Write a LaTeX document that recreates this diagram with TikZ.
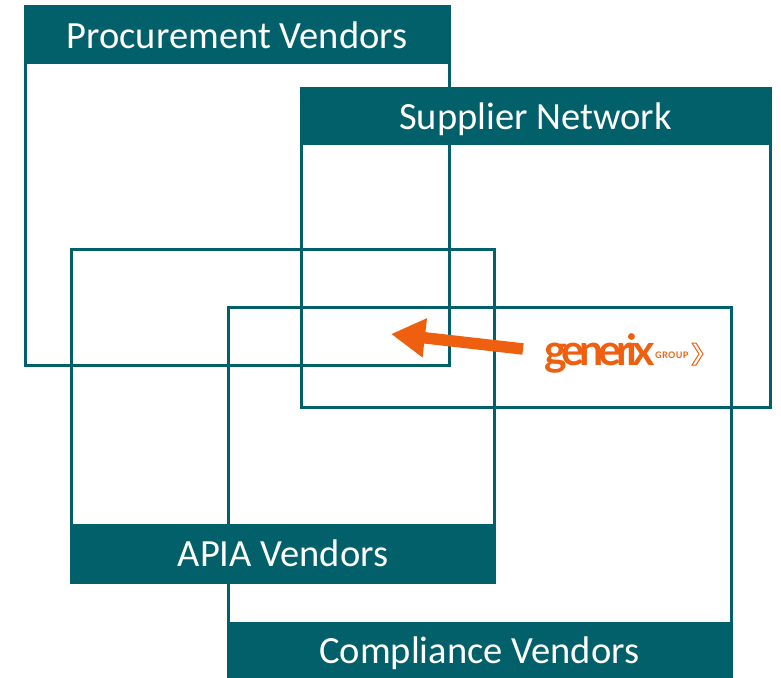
\documentclass[tikz,border=0pt]{standalone}
\usepackage{fontspec}
\setmainfont{Carlito}
\newfontfamily\logofont{Lato}
\usetikzlibrary{arrows.meta}
\definecolor{vendorteal}{HTML}{02606B}
\definecolor{logoorange}{HTML}{EE600F}
\tikzset{
  vendorbox/.style={draw=vendorteal,line width=2.6pt,inner sep=0pt,outer sep=0pt,anchor=north west},
  vendorhead/.style={fill=vendorteal,text=white,inner sep=0pt,outer sep=0pt,anchor=north west,text height=27pt,text depth=0pt,font=\fontsize{38.5}{38.5}\selectfont},
}
\begin{document}
\begin{tikzpicture}[x=1pt,y=-1pt,>=latex]
        \useasboundingbox (0,0) rectangle (781,677);
        % the four outlines
        \node[vendorbox,minimum width=424pt,minimum height=359pt] (procbox) at (25.5,6.5) {};
        \node[vendorbox,minimum width=469pt,minimum height=319pt] (suppbox) at (301.5,88.5) {};
        \node[vendorbox,minimum width=423pt,minimum height=333pt] (apiabox) at (71.5,249.5) {};
        \node[vendorbox,minimum width=503pt,minimum height=372pt] (compbox) at (228.5,307.5) {};
        % the headers go over the outlines
        \node[vendorhead,minimum width=425pt,minimum height=58.5pt] (prochead) at (24.5,5.5) {Procurement Vendors};
        \node[vendorhead,minimum width=470pt,minimum height=57.5pt] (supphead) at (300.5,87.5) {Supplier Network};
        \node[vendorhead,minimum width=425pt,minimum height=58.5pt] (apiahead) at (70.5,524) {APIA Vendors};
        \node[vendorhead,minimum width=505.5pt,minimum height=56pt] (comphead) at (226.5,622) {Compliance Vendors};
        % logo
        \node[inner sep=0pt,anchor=base west,text=logoorange,font=\logofont\bfseries\fontsize{43}{43}\selectfont] (logoname) at (544,365) {\addfontfeature{LetterSpace=-12}generix};
        \node[inner sep=0pt,anchor=base west,text=logoorange,font=\logofont\bfseries\fontsize{9}{9}\selectfont] (logogroup) at (655,358) {\addfontfeature{LetterSpace=4}GROUP};
        \draw[logoorange,line width=1pt,line join=miter] (692,343) -- (696,343) -- (703,354) -- (696,365) -- (692,365) -- (699,354) -- cycle;
        % arrow
        \coordinate (arrowstart) at (523,349);
        \coordinate (arrowtip) at (391,334);
        \draw[-{Triangle[length=34pt,width=37pt]},logoorange,line width=11.5pt] (arrowstart) -- (arrowtip);
\end{tikzpicture}
\end{document}
